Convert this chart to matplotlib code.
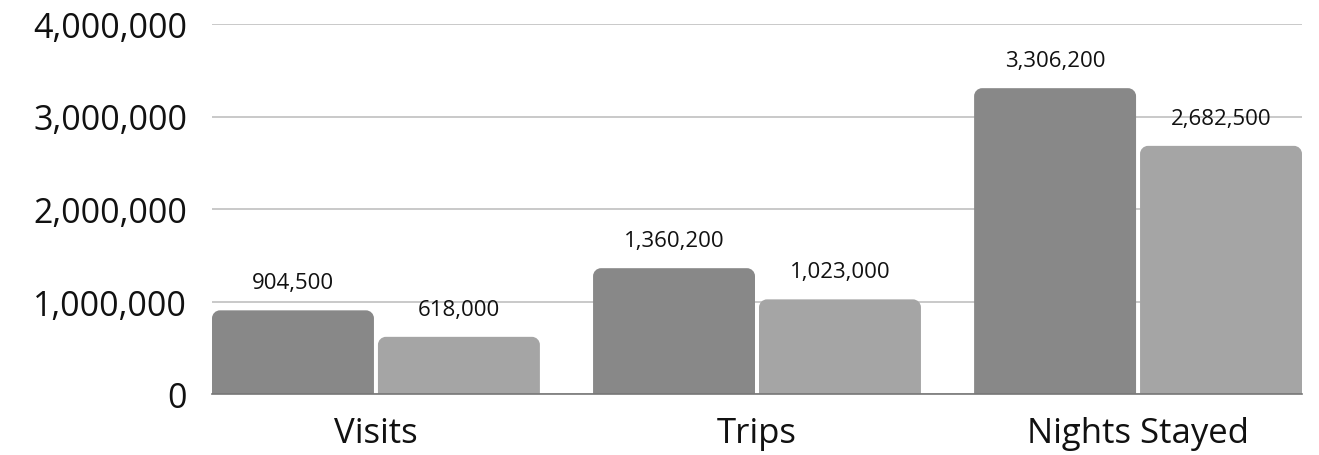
import matplotlib
matplotlib.use("Agg")
import matplotlib.pyplot as plt
import numpy as np
from matplotlib.path import Path
from matplotlib.patches import PathPatch
from matplotlib.ticker import FuncFormatter

plt.rcParams['font.family'] = ['Open Sans', 'DejaVu Sans']

categories = ['Visits', 'Trips', 'Nights Stayed']
series_a = [904500, 1360200, 3306200]
series_b = [618000, 1023000, 2682500]
yticks = [0, 1000000, 2000000, 3000000, 4000000]

color_a = '#888888'
color_b = '#a5a5a5'

fig = plt.figure(figsize=(13.19, 4.56), dpi=100)
ax = fig.add_axes([212/1319, 61/456, 1090/1319, 370/456])

x = np.arange(len(categories))
w = 0.425
gap = 0.0105
half = w + gap / 2

ax.set_xlim(-half, len(categories) - 1 + half)
ax.set_ylim(0, 4000000)


def rounded_bar(ax, x0, width, height, color, r_px=8):
    # rounded top corners, radius given in pixels
    fig_w = ax.get_window_extent().width
    fig_h = ax.get_window_extent().height
    xl = ax.get_xlim(); yl = ax.get_ylim()
    rx = r_px * (xl[1] - xl[0]) / fig_w
    ry = r_px * (yl[1] - yl[0]) / fig_h
    ry = min(ry, height)
    x1 = x0 + width
    k = 0.5523
    verts = [
        (x0, 0), (x0, height - ry),
        (x0, height - ry + k * ry), (x0 + rx - k * rx, height), (x0 + rx, height),
        (x1 - rx, height),
        (x1 - rx + k * rx, height), (x1, height - ry + k * ry), (x1, height - ry),
        (x1, 0), (x0, 0),
    ]
    codes = [Path.MOVETO, Path.LINETO,
             Path.CURVE4, Path.CURVE4, Path.CURVE4,
             Path.LINETO,
             Path.CURVE4, Path.CURVE4, Path.CURVE4,
             Path.LINETO, Path.CLOSEPOLY]
    ax.add_patch(PathPatch(Path(verts, codes), facecolor=color, edgecolor='none', zorder=3))


for i in range(len(categories)):
    left_a = x[i] - half
    left_b = x[i] + gap / 2
    rounded_bar(ax, left_a, w, series_a[i], color_a)
    rounded_bar(ax, left_b, w, series_b[i], color_b)
    ax.annotate(f'{series_a[i]:,}', (left_a + w / 2, series_a[i]), xytext=(0, 20),
                textcoords='offset points', ha='center', va='center', fontsize=16, color='#111111')
    ax.annotate(f'{series_b[i]:,}', (left_b + w / 2, series_b[i]), xytext=(0, 20),
                textcoords='offset points', ha='center', va='center', fontsize=16, color='#111111')

ax.set_yticks(yticks)
ax.yaxis.set_major_formatter(FuncFormatter(lambda v, p: f'{int(v):,}'))
ax.set_xticks(x)
ax.set_xticklabels(categories)
ax.tick_params(axis='y', length=0, pad=18, labelsize=24.5, labelcolor='#111111')
ax.tick_params(axis='x', length=0, pad=16, labelsize=25, labelcolor='#111111')

ax.grid(axis='y', color='#c0c0c0', linewidth=1.2, zorder=0)
ax.set_axisbelow(True)
for s in ['top', 'right', 'left']:
    ax.spines[s].set_visible(False)
ax.spines['bottom'].set_color('#777777')
ax.spines['bottom'].set_linewidth(1.2)
ax.spines['bottom'].set_zorder(4)

plt.savefig('out.png', dpi=100)
